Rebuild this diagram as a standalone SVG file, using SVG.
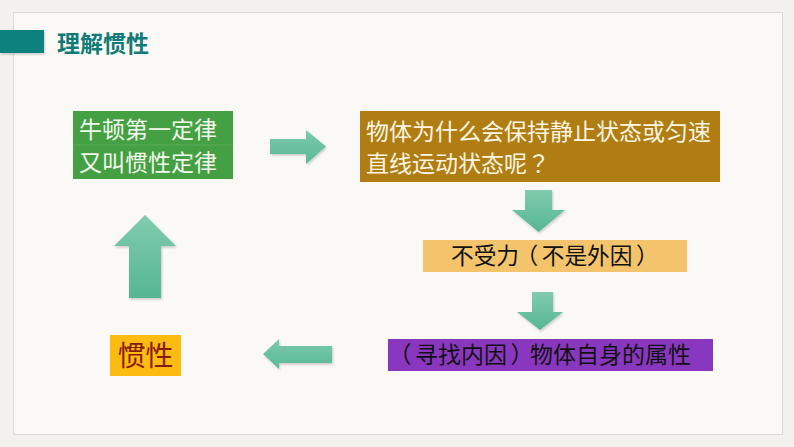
<svg xmlns="http://www.w3.org/2000/svg" width="794" height="447" viewBox="0 0 794 447">
  <defs>
    <linearGradient id="arrV" x1="0" y1="0" x2="0" y2="1">
      <stop offset="0" stop-color="#80ccad"/>
      <stop offset="1" stop-color="#56b792"/>
    </linearGradient>
    <linearGradient id="arrH" x1="0" y1="0" x2="0" y2="1">
      <stop offset="0" stop-color="#7ccaab"/>
      <stop offset="1" stop-color="#5ab995"/>
    </linearGradient>
    <filter id="sh" x="-20%" y="-20%" width="140%" height="140%">
      <feDropShadow dx="1" dy="1.5" stdDeviation="1.2" flood-color="#000" flood-opacity="0.2"/>
    </filter>
    <style>
      .cjk { font-family: "Noto Sans CJK SC", "Noto Sans", sans-serif; }
      .p { font-family: "Noto Sans CJK TC", "Noto Sans CJK SC", sans-serif; }
      .t23 { font-size: 23px; }
      .arrow { stroke: none; filter: url(#sh); }
    </style>
  </defs>

  <!-- background and frame -->
  <rect x="0" y="0" width="794" height="447" fill="#f3f1ed"/>
  <rect x="13.5" y="12.5" width="769" height="422" fill="#faf9f6" stroke="#dcdad5" stroke-width="1"/>

  <!-- header -->
  <g id="header">
    <rect x="0" y="30" width="44" height="23" fill="#0e817e" filter="url(#sh)"/>
    <text x="57" y="52" class="cjk" font-size="23" font-weight="bold" fill="#127b77">理解惯性</text>
  </g>

  <!-- nodes -->
  <g id="node-newton">
    <rect x="73" y="111" width="160" height="68" fill="#45a043"/>
    <line x1="73" y1="145" x2="233" y2="145" stroke="#5aad58" stroke-width="1"/>
    <text x="79" y="138" class="cjk t23" fill="#f2f9ec">牛顿第一定律</text>
    <text x="79" y="171" class="cjk t23" fill="#f2f9ec">又叫惯性定律</text>
  </g>

  <g id="node-question">
    <rect x="360" y="111" width="360" height="71" fill="#b07d12"/>
    <text x="366" y="140" class="cjk t23" fill="#fdf5e2">物体为什么会保持静止状态或匀速</text>
    <text x="366" y="172" class="cjk t23" fill="#fdf5e2">直线运动状态呢<tspan class="p">？</tspan></text>
  </g>

  <g id="node-noforce">
    <rect x="423" y="240" width="264" height="32" fill="#f3c46c"/>
    <text x="451" y="264" class="cjk" font-size="22.7" fill="#111">不受力<tspan dx="-3.5">（</tspan><tspan dx="3.5">不</tspan>是外因<tspan dx="3.5">）</tspan></text>
  </g>

  <g id="node-property">
    <rect x="388" y="339" width="325" height="32" fill="#8a37c0"/>
    <text x="392" y="363" class="cjk t23" fill="#111"><tspan dx="-3.5">（</tspan><tspan dx="3.5">寻</tspan>找内因<tspan dx="3.5">）</tspan><tspan dx="-3.5">物</tspan>体自身的属性</text>
  </g>

  <g id="node-inertia">
    <rect x="110" y="335" width="71" height="41" fill="#fbbb10"/>
    <text x="145.5" y="366" text-anchor="middle" class="cjk" font-size="28" fill="#8a1a0c">惯性</text>
  </g>

  <!-- connectors -->
  <g id="connectors">
    <path class="arrow" fill="url(#arrH)" d="M270 139 H306 V130 L326 146.5 L306 164 V154 H270 Z"/>
    <path class="arrow" fill="url(#arrV)" d="M525 190 H552 V210 H565 L538.5 232 L512 210 H525 Z"/>
    <path class="arrow" fill="url(#arrV)" d="M532 292 H553 V312 H563 L540 330 L517 312 H532 Z"/>
    <path class="arrow" fill="url(#arrH)" d="M332 346 H279 V339 L263 354 L279 369 V363 H332 Z"/>
    <path class="arrow" fill="url(#arrV)" d="M129 298 V246 H114 L145 215 L176 246 H161 V298 Z"/>
  </g>
</svg>
